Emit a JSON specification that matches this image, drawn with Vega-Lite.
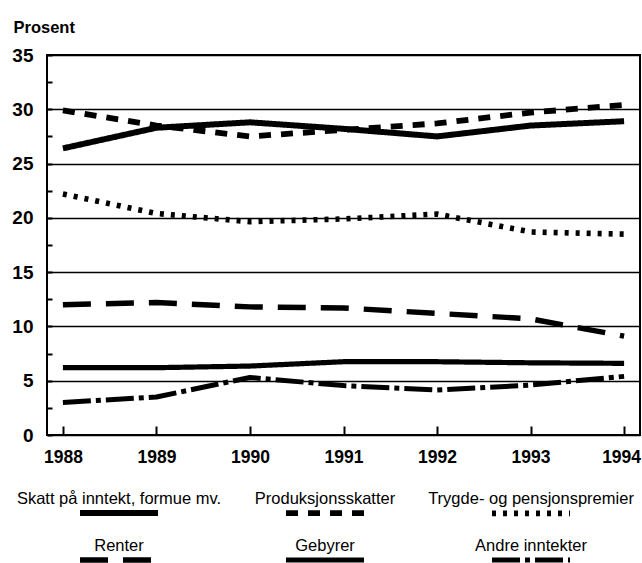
{
  "$schema": "https://vega.github.io/schema/vega-lite/v6.json",
  "width": 593,
  "height": 380,
  "autosize": {"type": "none"},
  "padding": {"left": 47, "top": 55, "right": 2, "bottom": 128},
  "background": "white",
  "data": {
    "values": [
      {"year": 1988, "series": "Skatt på inntekt, formue mv.", "value": 26.4},
      {"year": 1989, "series": "Skatt på inntekt, formue mv.", "value": 28.3},
      {"year": 1990, "series": "Skatt på inntekt, formue mv.", "value": 28.8},
      {"year": 1991, "series": "Skatt på inntekt, formue mv.", "value": 28.2},
      {"year": 1992, "series": "Skatt på inntekt, formue mv.", "value": 27.5},
      {"year": 1993, "series": "Skatt på inntekt, formue mv.", "value": 28.5},
      {"year": 1994, "series": "Skatt på inntekt, formue mv.", "value": 28.9},
      {"year": 1988, "series": "Produksjonsskatter", "value": 29.9},
      {"year": 1989, "series": "Produksjonsskatter", "value": 28.5},
      {"year": 1990, "series": "Produksjonsskatter", "value": 27.5},
      {"year": 1991, "series": "Produksjonsskatter", "value": 28.1},
      {"year": 1992, "series": "Produksjonsskatter", "value": 28.7},
      {"year": 1993, "series": "Produksjonsskatter", "value": 29.7},
      {"year": 1994, "series": "Produksjonsskatter", "value": 30.4},
      {"year": 1988, "series": "Trygde- og pensjonspremier", "value": 22.2},
      {"year": 1989, "series": "Trygde- og pensjonspremier", "value": 20.4},
      {"year": 1990, "series": "Trygde- og pensjonspremier", "value": 19.65},
      {"year": 1991, "series": "Trygde- og pensjonspremier", "value": 19.9},
      {"year": 1992, "series": "Trygde- og pensjonspremier", "value": 20.35},
      {"year": 1993, "series": "Trygde- og pensjonspremier", "value": 18.7},
      {"year": 1994, "series": "Trygde- og pensjonspremier", "value": 18.5},
      {"year": 1988, "series": "Renter", "value": 12.0},
      {"year": 1989, "series": "Renter", "value": 12.2},
      {"year": 1990, "series": "Renter", "value": 11.8},
      {"year": 1991, "series": "Renter", "value": 11.7},
      {"year": 1992, "series": "Renter", "value": 11.2},
      {"year": 1993, "series": "Renter", "value": 10.7},
      {"year": 1994, "series": "Renter", "value": 9.1},
      {"year": 1988, "series": "Gebyrer", "value": 6.2},
      {"year": 1989, "series": "Gebyrer", "value": 6.2},
      {"year": 1990, "series": "Gebyrer", "value": 6.35},
      {"year": 1991, "series": "Gebyrer", "value": 6.75},
      {"year": 1992, "series": "Gebyrer", "value": 6.75},
      {"year": 1993, "series": "Gebyrer", "value": 6.65},
      {"year": 1994, "series": "Gebyrer", "value": 6.6},
      {"year": 1988, "series": "Andre inntekter", "value": 3.0},
      {"year": 1989, "series": "Andre inntekter", "value": 3.5},
      {"year": 1990, "series": "Andre inntekter", "value": 5.3},
      {"year": 1991, "series": "Andre inntekter", "value": 4.55},
      {"year": 1992, "series": "Andre inntekter", "value": 4.15},
      {"year": 1993, "series": "Andre inntekter", "value": 4.6},
      {"year": 1994, "series": "Andre inntekter", "value": 5.4}
    ]
  },
  "mark": {"type": "line", "color": "black", "interpolate": "linear", "strokeCap": "butt", "strokeJoin": "round"},
  "encoding": {
    "x": {
      "field": "year",
      "type": "quantitative",
      "scale": {"domain": [1987.83, 1994.17], "nice": false, "zero": false},
      "axis": {
        "title": null,
        "values": [1988, 1989, 1990, 1991, 1992, 1993, 1994],
        "format": "d",
        "domain": false,
        "grid": false,
        "tickSize": -9,
        "tickWidth": 2,
        "tickColor": "black",
        "labelPadding": 22,
        "labelFontSize": 17.5,
        "labelFontWeight": "bold",
        "labelColor": "black",
        "labelBaseline": "top",
        "labelOffset": {"condition": {"test": "datum.value === 1994", "value": -3}, "value": 0}
      }
    },
    "y": {
      "field": "value",
      "type": "quantitative",
      "scale": {"domain": [0, 35], "nice": false},
      "axis": {
        "title": "Prosent",
        "titleAngle": 0,
        "titleAlign": "left",
        "titleBaseline": "alphabetic",
        "titleX": -34,
        "titleY": -23,
        "titleFontSize": 16.5,
        "titleFontWeight": "bold",
        "titleColor": "black",
        "values": [0, 2.5, 5, 7.5, 10, 12.5, 15, 17.5, 20, 22.5, 25, 27.5, 30, 32.5, 35],
        "labelExpr": "datum.value % 5 === 0 ? datum.label : ''",
        "domain": false,
        "tickSize": -5,
        "tickWidth": 2,
        "tickColor": "black",
        "labelPadding": 19,
        "labelFontSize": 19,
        "labelFontWeight": "bold",
        "labelColor": "black",
        "grid": true,
        "gridColor": "black",
        "gridWidth": 1.6,
        "gridOpacity": {"condition": {"test": "datum.value % 5 === 0", "value": 1}, "value": 0}
      }
    },
    "strokeDash": {
      "field": "series",
      "type": "nominal",
      "scale": {
        "domain": ["Skatt på inntekt, formue mv.", "Produksjonsskatter", "Trygde- og pensjonspremier", "Renter", "Gebyrer", "Andre inntekter"],
        "range": [[1, 0], [12, 10], [4, 7], [28, 15], [1, 0], [28, 5, 5, 5]]
      },
      "legend": {
        "title": null,
        "orient": "none",
        "legendX": -27,
        "legendY": 433,
        "direction": "horizontal",
        "columns": 3,
        "gridAlign": "all",
        "columnPadding": 0,
        "rowPadding": 10,
        "symbolType": "stroke",
        "symbolSize": 6084,
        "symbolStrokeColor": "black",
        "symbolFillColor": "transparent",
        "labelAlign": "center",
        "labelBaseline": "alphabetic",
        "labelFontSize": 16.5,
        "labelColor": "black",
        "labelLimit": 400,
        "encode": {
          "symbols": {"update": {"x": {"value": 99}, "y": {"value": 25}}},
          "labels": {"update": {"x": {"value": 99}, "y": {"value": 16}}}
        }
      }
    },
    "strokeWidth": {
      "field": "series",
      "type": "nominal",
      "scale": {
        "domain": ["Skatt på inntekt, formue mv.", "Produksjonsskatter", "Trygde- og pensjonspremier", "Renter", "Gebyrer", "Andre inntekter"],
        "range": [6, 5, 4.5, 5.5, 2.8, 5]
      },
      "legend": {
        "title": null,
        "orient": "none",
        "legendX": -27,
        "legendY": 433,
        "direction": "horizontal",
        "columns": 3,
        "gridAlign": "all",
        "columnPadding": 0,
        "rowPadding": 10,
        "symbolType": "stroke",
        "symbolSize": 6084,
        "symbolStrokeColor": "black",
        "symbolFillColor": "transparent",
        "labelAlign": "center",
        "labelBaseline": "alphabetic",
        "labelFontSize": 16.5,
        "labelColor": "black",
        "labelLimit": 400,
        "encode": {
          "symbols": {"update": {"x": {"value": 99}, "y": {"value": 25}}},
          "labels": {"update": {"x": {"value": 99}, "y": {"value": 16}}}
        }
      }
    }
  },
  "config": {
    "font": "Liberation Sans",
    "view": {"stroke": "black", "strokeWidth": 2}
  }
}
